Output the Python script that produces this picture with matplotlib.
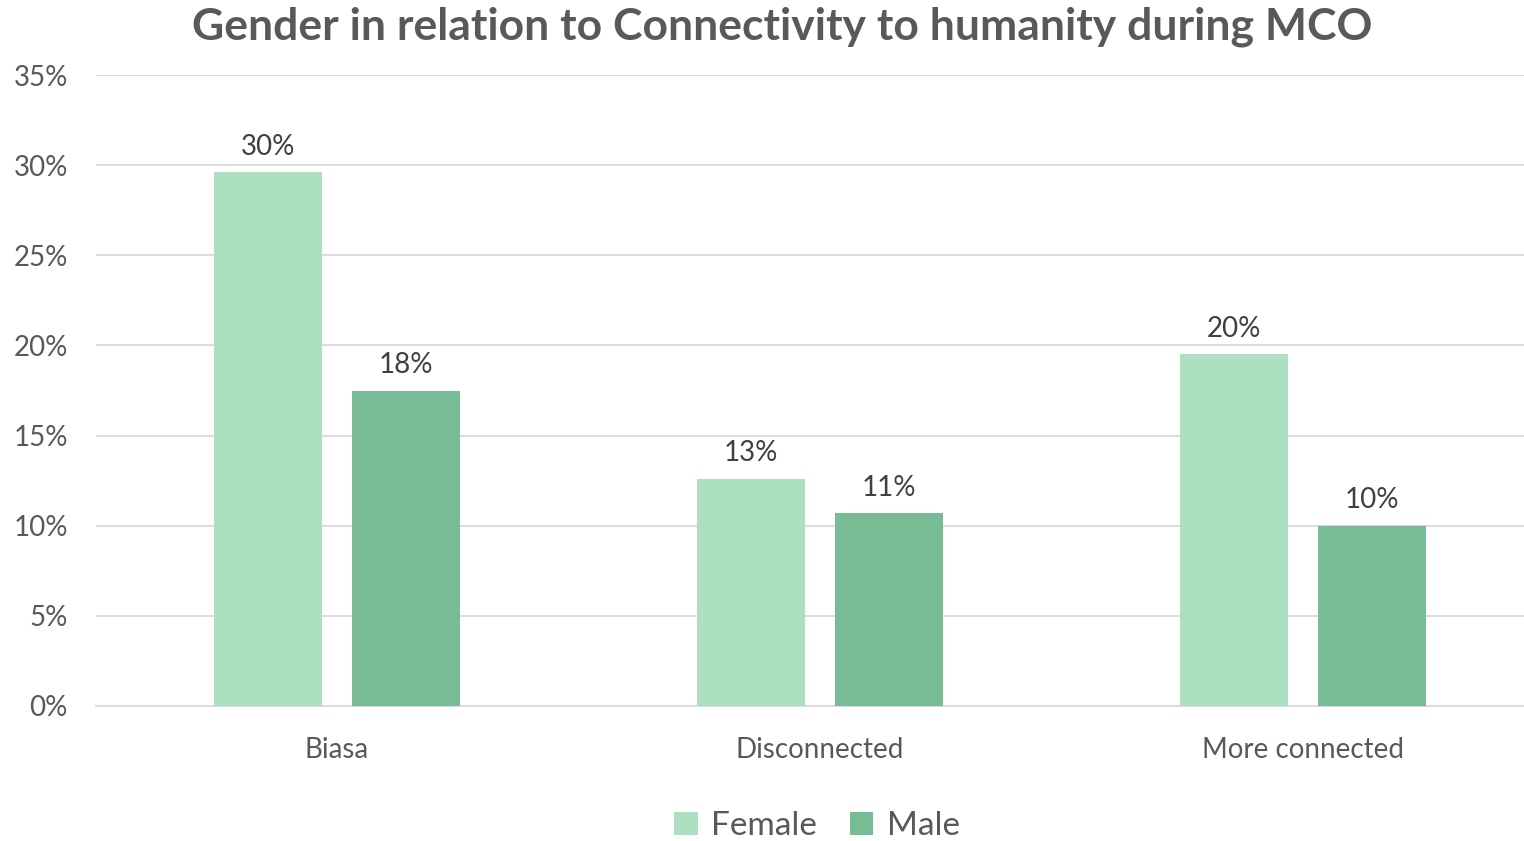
import matplotlib
matplotlib.use("Agg")
import matplotlib.pyplot as plt
import numpy as np
from matplotlib.ticker import PercentFormatter

categories = ["Biasa", "Disconnected", "More connected"]
female = [29.6, 12.6, 19.5]
male = [17.5, 10.7, 10.0]
series_names = ["Female", "Male"]
yticks = [0, 5, 10, 15, 20, 25, 30, 35]

plt.rcParams['font.family'] = ['Lato', 'DejaVu Sans']
W, H = 1524, 841
fig = plt.figure(figsize=(W/100, H/100), dpi=100)
left, right = 95.5, 1544.5
top, bottom = 75, 706
ax = fig.add_axes([left/W, 1 - bottom/H, (right-left)/W, (bottom-top)/H])

x = np.arange(len(categories))
bw = 0.224
off = 0.143
c_f = "#ADDFC1"
c_m = "#78BC95"
bf = ax.bar(x - off, female, bw, color=c_f, label=series_names[0], zorder=3)
bm = ax.bar(x + off, male, bw, color=c_m, label=series_names[1], zorder=3)

for bars, vals in ((bf, female), (bm, male)):
    for b, v in zip(bars, vals):
        ax.annotate(f"{v:.0f}%", (b.get_x() + b.get_width()/2, v),
                    xytext=(0, 9), textcoords="offset points",
                    ha="center", va="bottom", fontsize=20, color="#404040")

ax.set_xlim(-0.5, len(categories) - 0.5)
ax.set_ylim(0, 35)
ax.set_yticks(yticks)
ax.yaxis.set_major_formatter(PercentFormatter(decimals=0))
ax.grid(axis="y", color="#D9D9D9", linewidth=1.3, zorder=0)
for s in ["top", "right", "left"]:
    ax.spines[s].set_visible(False)
ax.spines["bottom"].set_color("#D9D9D9")
ax.spines["bottom"].set_linewidth(1.3)
ax.set_xticks(x)
ax.set_xticklabels(categories)
ax.tick_params(axis="both", length=0, labelsize=20, colors="#595959")
ax.tick_params(axis="y", pad=20)
ax.tick_params(axis="x", pad=22)

fig.text(782/W, 1 - 27/H, "Gender in relation to Connectivity to humanity during MCO",
         ha="center", va="center", fontsize=32, fontweight="bold", color="#595959")

leg = fig.legend(handles=[bf, bm], labels=series_names, loc="center",
                 bbox_to_anchor=(817/W, 1 - 826/H), ncol=2, frameon=False,
                 fontsize=24, handlelength=0.7, handleheight=0.7,
                 handletextpad=0.4, columnspacing=1.0, labelcolor="#595959")

fig.savefig("out.png", dpi=100)
